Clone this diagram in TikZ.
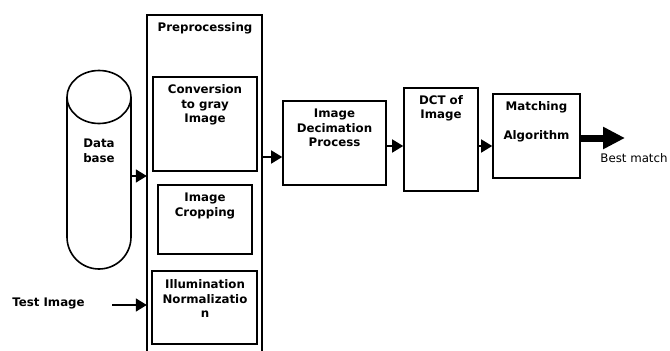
\documentclass[tikz,border=0pt]{standalone}
\usepackage{fontspec}
\setmainfont{DejaVu Sans}
\usetikzlibrary{arrows.meta,calc}
\tikzset{
  box/.style={draw, line width=1.6pt, rectangle, inner sep=0pt},
  txt/.style={font=\bfseries\fontsize{11.8}{14.5}\selectfont, align=center, inner sep=0pt},
  plain/.style={font=\fontsize{11.8}{14.5}\selectfont, inner sep=0pt},
  arr/.style={line width=1.5pt, -{Triangle[length=11pt,width=13pt]}},
  bigarr/.style={line width=7pt, -{Triangle[length=22pt,width=21pt]}}
}
\begin{document}
\begin{tikzpicture}[x=1pt,y=-1pt]
\useasboundingbox (0,0) rectangle (670,351);
% database cylinder
\draw[line width=1.6pt] (67,97) -- (67,237) arc[start angle=180,end angle=0,x radius=32,y radius=32] -- (131,97);
\draw[line width=1.6pt] (99,97) ellipse[x radius=32,y radius=26.5];
\node[minimum width=64pt,minimum height=198pt,inner sep=0pt] (db) at (99,170) {};
\node[txt] (dbt) at (99,151) {Data\\base};
% preprocessing outer box
\node[minimum width=115pt,minimum height=340pt,inner sep=0pt] (pre) at (204.5,185) {};
\draw[line width=1.6pt] (147,356) -- (147,15) -- (262,15) -- (262,356);
\node[txt] (pret) at (205,28) {Preprocessing};
% inner boxes
\node[box,minimum width=104pt,minimum height=94pt] (conv) at (205,124) {};
\node[txt] (convt) at (205,105) {Conversion\\to gray\\Image};
\node[box,minimum width=94pt,minimum height=69pt] (crop) at (205,219.5) {};
\node[txt] (cropt) at (205,206) {Image\\Cropping};
\node[box,minimum width=105pt,minimum height=73pt] (ill) at (204.5,307.5) {};
\node[txt] (illt) at (205,299) {Illumination\\Normalizatio\\n};
% test image
\node[txt] (test) at (48.5,303) {Test Image};
\coordinate (tstart) at (112,305);
\coordinate (tend) at (pre.west |- tstart);
\draw[arr] (tstart) -- (tend);
% db arrow
\coordinate (dbs) at (131,176);
\coordinate (dbe) at (pre.west |- dbs);
\draw[arr] (dbs) -- (dbe);
% decimation
\node[box,minimum width=103pt,minimum height=84pt] (dec) at (334.5,143) {};
\node[txt] (dect) at (334.5,128) {Image\\Decimation\\Process};
\coordinate (a1e) at (dec.west |- 0,157);
\coordinate (a1s) at (pre.east |- 0,157);
\draw[arr] (a1s) -- (a1e);
% DCT
\node[box,minimum width=74pt,minimum height=103pt] (dct) at (441,139.5) {};
\node[txt] (dctt) at (441,108.5) {DCT of\\Image};
\coordinate (a2s) at (dec.east |- 0,146);
\coordinate (a2e) at (dct.west |- 0,146);
\draw[arr] (a2s) -- (a2e);
% matching
\node[box,minimum width=87pt,minimum height=84pt] (match) at (536.5,136) {};
\node[txt] (matcht) at (536.5,122) {Matching\\~\\Algorithm};
\coordinate (a3s) at (dct.east |- 0,146);
\coordinate (a3e) at (match.west |- 0,146);
\draw[arr] (a3s) -- (a3e);
% output
\coordinate (out) at (625,138);
\coordinate (outs) at (match.east |- out);
\draw[bigarr] (outs) -- (out);
\node[plain] (best) at (634,158) {Best match};
\end{tikzpicture}
\end{document}
